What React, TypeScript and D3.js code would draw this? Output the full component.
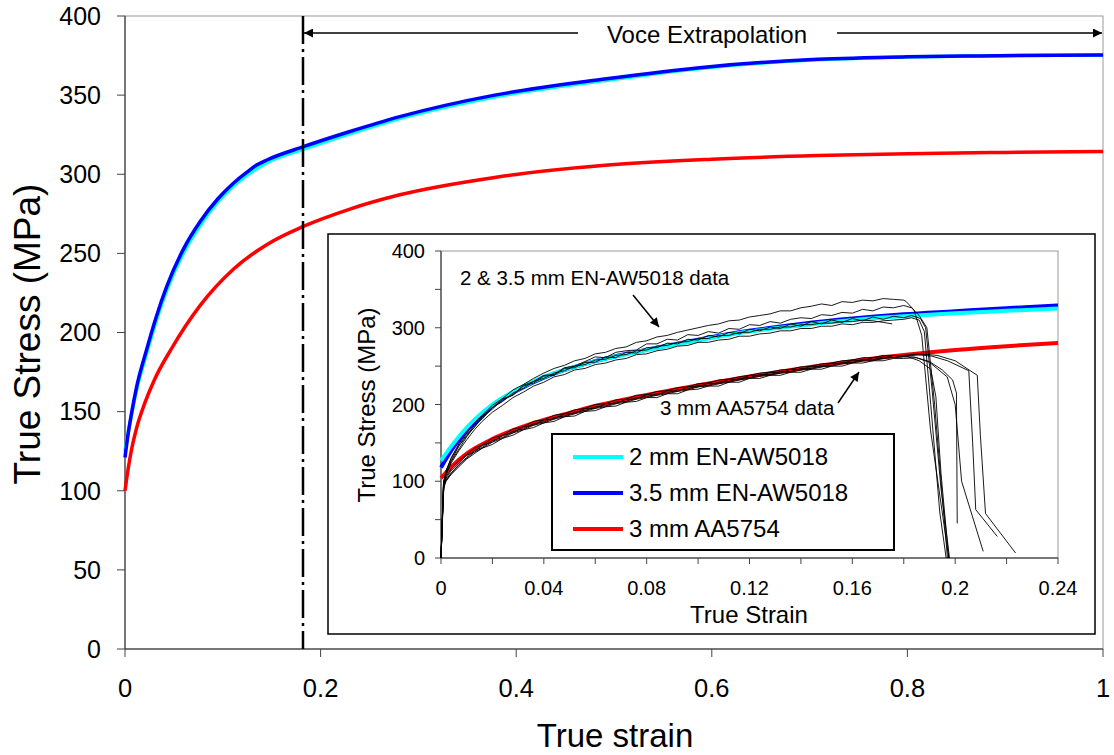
import React from 'react';
import * as d3 from 'd3';

// ---------- Main chart data ----------
const mainXTicks = [0, 0.2, 0.4, 0.6, 0.8, 1];
const mainYTicks = [0, 50, 100, 150, 200, 250, 300, 350, 400];
const voceStart = 0.182;

const mainBlueStrain = [0, 0.003, 0.007, 0.012, 0.022, 0.032, 0.0426, 0.06, 0.0767, 0.095, 0.1108, 0.125, 0.1346, 0.145, 0.1823, 0.23, 0.281, 0.378, 0.488, 0.598, 0.708, 0.8, 0.873, 1];
const mainBlueStress = [121, 135, 150, 166, 189, 210, 229, 253, 270, 284.5, 294.3, 301.5, 305.8, 309, 317.4, 327, 336.4, 350, 360, 368, 372.6, 374.2, 374.8, 375.4];
const mainCyanStress = [125, 136, 149, 164, 186.5, 207.5, 226.5, 250.5, 267.5, 282.5, 292.5, 299.5, 303.5, 307.3, 315.8, 325.6, 335.2, 348.8, 359, 367.5, 372.3, 374.1, 374.8, 375.4];
const mainRedStrain = [0, 0.003, 0.007, 0.012, 0.02, 0.03, 0.0477, 0.0767, 0.1108, 0.1449, 0.1823, 0.23, 0.281, 0.378, 0.488, 0.6, 0.708, 0.8, 0.9, 1];
const mainRedStress = [100, 113, 127, 140, 155, 170, 190, 217, 240, 255.5, 267, 278, 287, 298, 305.5, 309.5, 311.8, 313, 313.8, 314.4];

// ---------- Inset data ----------
const insetXTicks = [0, 0.02, 0.04, 0.06, 0.08, 0.1, 0.12, 0.14, 0.16, 0.18, 0.2, 0.22, 0.24];
const insetXLabels = [0, 0.04, 0.08, 0.12, 0.16, 0.2, 0.24];
const insetYTicks = [0, 50, 100, 150, 200, 250, 300, 350, 400];
const insetYLabels = [0, 100, 200, 300, 400];

const insetFitStrain = [0, 0.005, 0.01, 0.02, 0.03, 0.04, 0.05, 0.06, 0.07, 0.08, 0.09, 0.1, 0.12, 0.14, 0.16, 0.18, 0.2, 0.22, 0.24];
const insetCyan = [127, 150, 170, 200, 220, 236, 247, 256.5, 264, 271, 277.5, 283.5, 295, 303, 310, 315, 319, 322, 325];
const insetBlue = [118, 145, 166, 198, 219, 235, 247, 256.5, 264.5, 271.5, 278, 284.5, 296, 305, 312, 317.5, 321.5, 325.5, 329];
const insetRed = [104, 122, 136, 155, 169, 180, 189, 198, 205.5, 212.5, 219, 225, 236.5, 247, 256.5, 264.5, 271, 276, 280];

// experimental specimens: shared strain grid + per-specimen stress + tail points
const specStrain = [0, 0.001, 0.002, 0.004, 0.007, 0.01, 0.013, 0.016, 0.02, 0.024, 0.028, 0.032, 0.036, 0.04, 0.044, 0.048, 0.052, 0.056, 0.06, 0.064, 0.068, 0.072, 0.076, 0.08, 0.084, 0.088, 0.092, 0.096, 0.1, 0.104, 0.108, 0.112, 0.116, 0.12, 0.124, 0.128, 0.132, 0.136, 0.14, 0.144, 0.148, 0.152, 0.156, 0.16, 0.164, 0.168, 0.172, 0.176, 0.18];

const u1 = [0, 92, 114, 131, 149, 163, 176, 186, 199, 208, 219, 226, 234, 241, 247, 251, 257, 260, 266, 268, 273, 275, 281, 283, 288, 290, 294, 297, 300, 303, 305, 309, 310, 314, 316, 318, 322, 322, 326, 328, 331, 329, 334, 333, 336, 335, 338, 337, 336];
const u1Tail = [[0.181, 334], [0.184, 323], [0.187, 290], [0.1904, 167], [0.1975, 0]];
const u2 = [0, 85, 108, 126, 142, 158, 171, 184, 196, 207, 213, 225, 230, 238, 239, 248, 250, 256, 262, 261, 268, 270, 271, 279, 279, 285, 284, 291, 290, 295, 293, 299, 298, 304, 303, 308, 306, 311, 313, 312, 317, 316, 320, 319, 324, 322, 327, 326, 329];
const u2Tail = [[0.183, 326], [0.186, 316], [0.189, 300], [0.192, 200], [0.195, 80], [0.197, 0]];
const u3 = [0, 98, 114, 127, 146, 159, 173, 181, 196, 204, 215, 221, 230, 234, 241, 244, 250, 252, 258, 259, 264, 265, 270, 271, 276, 277, 281, 282, 286, 286, 290, 290, 294, 294, 298, 298, 301, 301, 304, 304, 306, 306, 308, 308, 310, 309, 307];
const u3Tail = [[0.1755, 305]];
const u4 = [0, 100, 110, 124, 140, 154, 167, 178, 190, 199, 209, 216, 224, 229, 236, 239, 245, 247, 252, 254, 258, 260, 265, 266, 270, 272, 276, 277, 281, 281, 284, 285, 289, 289, 292, 293, 296, 296, 299, 299, 302, 302, 305, 304, 307, 307, 309, 310, 311];
const u4Tail = [[0.183, 313], [0.186, 310], [0.188, 295], [0.1905, 200], [0.194, 60], [0.1965, 0]];
const u5 = [0, 96, 113, 130, 147, 161, 170, 183, 194, 207, 212, 224, 228, 237, 238, 247, 248, 255, 255, 262, 261, 268, 267, 274, 274, 280, 279, 285, 284, 290, 288, 294, 292, 298, 296, 301, 299, 305, 302, 308, 305, 310, 307, 312, 309, 314, 311, 315, 313];
const u5Tail = [[0.183, 316], [0.1865, 312], [0.1885, 300], [0.191, 220], [0.1945, 90], [0.1978, 0]];

const l1 = [0, 90, 106, 116, 127, 135, 143, 147, 156, 160, 168, 171, 178, 180, 186, 188, 193, 195, 200, 201, 206, 207, 212, 213, 217, 218, 222, 223, 227, 228, 232, 233, 236, 238, 241, 242, 245, 246, 249, 250, 253, 254, 257, 258, 261, 261, 264, 264];
const l1Tail = [[0.181, 263], [0.186, 257], [0.1905, 246], [0.1925, 210], [0.1945, 110], [0.1975, 0]];
const l2 = [0, 98, 101, 109, 119, 129, 136, 143, 148, 156, 160, 167, 170, 176, 178, 184, 185, 191, 192, 197, 198, 203, 204, 209, 209, 214, 214, 219, 220, 224, 224, 229, 229, 234, 234, 238, 238, 242, 242, 246, 246, 250, 250, 254, 254, 257, 257, 260, 260];
const l2Tail = [[0.185, 261], [0.19, 256], [0.195, 245], [0.199, 232], [0.2005, 215], [0.2008, 45]];
const l3 = [0, 93, 104, 114, 124, 134, 138, 147, 151, 160, 163, 171, 173, 180, 181, 188, 188, 195, 195, 201, 201, 207, 207, 213, 212, 218, 217, 223, 223, 228, 227, 233, 232, 238, 237, 242, 241, 246, 245, 250, 249, 254, 253, 258, 257, 261, 260, 264, 263];
const l3Tail = [[0.185, 265], [0.191, 263], [0.197, 257], [0.2053, 244], [0.2068, 150], [0.208, 63], [0.2164, 28]];
const l4 = [0, 100, 102, 111, 122, 131, 140, 144, 153, 157, 165, 168, 175, 177, 183, 185, 190, 192, 197, 198, 203, 204, 209, 210, 214, 215, 219, 220, 225, 225, 229, 230, 234, 235, 239, 239, 243, 243, 247, 247, 251, 251, 255, 255, 259, 258, 262, 261, 264];
const l4Tail = [[0.186, 266], [0.193, 264], [0.2, 257], [0.2086, 238], [0.2098, 160], [0.2118, 58], [0.2235, 6.5]];
const l5 = [0, 92, 100, 110, 121, 130, 138, 143, 151, 156, 163, 167, 173, 176, 181, 184, 188, 191, 195, 197, 201, 203, 207, 209, 212, 214, 217, 219, 223, 224, 227, 229, 232, 234, 237, 238, 241, 242, 245, 246, 249, 250, 253, 254, 257, 257, 260, 261, 262];
const l5Tail = [[0.184, 262], [0.19, 255], [0.1969, 236], [0.2, 200], [0.2025, 100], [0.2109, 8.6]];

const specimens = [
  [u1, u1Tail], [u2, u2Tail], [u3, u3Tail], [u4, u4Tail], [u5, u5Tail],
  [l1, l1Tail], [l2, l2Tail], [l3, l3Tail], [l4, l4Tail], [l5, l5Tail],
] as [number[], number[][]][];

const legendItems = [
  { label: '2 mm EN-AW5018', color: '#00FFFF' },
  { label: '3.5 mm EN-AW5018', color: '#0000FF' },
  { label: '3 mm AA5754', color: '#FF0000' },
];

const FONT = 'Liberation Sans, Arial, Helvetica, sans-serif';

export default function App() {
  const W = 1114, H = 755;
  const x = d3.scaleLinear().domain([0, 1]).range([125, 1103]);
  const y = d3.scaleLinear().domain([0, 400]).range([649, 16]);
  const ix = d3.scaleLinear().domain([0, 0.24]).range([441, 1058]);
  const iy = d3.scaleLinear().domain([0, 400]).range([558, 251]);

  const mainLine = d3.line<[number, number]>().x(d => x(d[0])).y(d => y(d[1])).curve(d3.curveMonotoneX);
  const insetFit = d3.line<[number, number]>().x(d => ix(d[0])).y(d => iy(d[1])).curve(d3.curveMonotoneX);
  const insetData = d3.line<number[]>().x(d => ix(d[0])).y(d => iy(d[1]));

  const zip = (xs: number[], ys: number[]) => ys.map((v, i) => [xs[i], v] as [number, number]);

  const vx = x(voceStart);
  const arrowY = 33;

  return (
    <svg width={W} height={H} style={{ position: 'absolute', left: 0, top: 0, background: '#fff' }} fontFamily={FONT}>
      <defs>
        <marker id="ah" viewBox="0 0 10 10" refX="10" refY="5" markerWidth="7" markerHeight="6" orient="auto" markerUnits="strokeWidth">
          <path d="M0,0 L10,5 L0,10 z" fill="#000" />
        </marker>
        <marker id="ah2" viewBox="0 0 10 10" refX="10" refY="5" markerWidth="8" markerHeight="6" orient="auto" markerUnits="strokeWidth">
          <path d="M0,0 L10,5 L0,10 z" fill="#000" />
        </marker>
      </defs>
      <rect x={0} y={0} width={W} height={H} fill="#fff" />

      {/* main plot frame */}
      <rect x={x(0)} y={y(400)} width={x(1) - x(0)} height={y(0) - y(400)} fill="none" stroke="#999" strokeWidth={1} />
      <line x1={x(0)} x2={x(0)} y1={y(400)} y2={y(0)} stroke="#222" strokeWidth={1} />
      <line x1={x(0)} x2={x(1)} y1={y(0)} y2={y(0)} stroke="#222" strokeWidth={1} />

      {mainYTicks.map(t => (
        <g key={'my' + t}>
          <line x1={x(0) - 8} x2={x(0)} y1={y(t)} y2={y(t)} stroke="#444" />
          <text x={101} y={y(t)} dy="0.35em" textAnchor="end" fontSize={25} fill="#000">{t}</text>
        </g>
      ))}
      {mainXTicks.map(t => (
        <g key={'mx' + t}>
          <line x1={x(t)} x2={x(t)} y1={y(0)} y2={y(0) + 8} stroke="#444" />
          <text x={x(t)} y={697} textAnchor="middle" fontSize={25.5} fill="#000">{t}</text>
        </g>
      ))}
      <text transform="translate(40,334) rotate(-90)" textAnchor="middle" fontSize={37} fill="#000">True Stress (MPa)</text>
      <text x={615} y={747} textAnchor="middle" fontSize={33} fill="#000">True strain</text>

      {/* main curves */}
      <path d={mainLine(zip(mainBlueStrain, mainCyanStress)) || ''} fill="none" stroke="#00FFFF" strokeWidth={3.5} />
      <path d={mainLine(zip(mainBlueStrain, mainBlueStress)) || ''} fill="none" stroke="#0000FF" strokeWidth={3.5} />
      <path d={mainLine(zip(mainRedStrain, mainRedStress)) || ''} fill="none" stroke="#FF0000" strokeWidth={3.5} />

      {/* dash-dot line */}
      <line x1={vx} x2={vx} y1={y(400)} y2={y(0)} stroke="#000" strokeWidth={2.5} strokeDasharray="28,5,3,5" />

      {/* Voce extrapolation arrow */}
      <line x1={578} x2={vx + 1} y1={arrowY} y2={arrowY} stroke="#000" strokeWidth={1.5} markerEnd="url(#ah)" />
      <line x1={837} x2={x(1) - 1} y1={arrowY} y2={arrowY} stroke="#000" strokeWidth={1.5} markerEnd="url(#ah)" />
      <text x={707} y={42.5} textAnchor="middle" fontSize={24} fill="#000">Voce Extrapolation</text>

      {/* inset */}
      <rect x={328} y={234} width={767} height={400} fill="#fff" stroke="#000" strokeWidth={1.5} />
      <rect x={ix(0)} y={iy(400)} width={ix(0.24) - ix(0)} height={iy(0) - iy(400)} fill="none" stroke="#999" strokeWidth={1} />
      <line x1={ix(0)} x2={ix(0)} y1={iy(400)} y2={iy(0)} stroke="#222" />
      <line x1={ix(0)} x2={ix(0.24)} y1={iy(0)} y2={iy(0)} stroke="#222" />
      {insetYTicks.map(t => (
        <line key={'iyt' + t} x1={ix(0) - 6} x2={ix(0)} y1={iy(t)} y2={iy(t)} stroke="#444" />
      ))}
      {insetYLabels.map(t => (
        <text key={'iyl' + t} x={425} y={iy(t)} dy="0.35em" textAnchor="end" fontSize={20} fill="#000">{t}</text>
      ))}
      {insetXTicks.map(t => (
        <line key={'ixt' + t} x1={ix(t)} x2={ix(t)} y1={iy(0)} y2={iy(0) + 6} stroke="#444" />
      ))}
      {insetXLabels.map(t => (
        <text key={'ixl' + t} x={ix(t)} y={595} textAnchor="middle" fontSize={20} fill="#000">{t}</text>
      ))}
      <text transform="translate(375,405) rotate(-90)" textAnchor="middle" fontSize={24} fill="#000">True Stress (MPa)</text>
      <text x={749} y={623} textAnchor="middle" fontSize={24} fill="#000">True Strain</text>

      {/* inset fits */}
      <path d={insetFit(zip(insetFitStrain, insetBlue)) || ''} fill="none" stroke="#0000FF" strokeWidth={4} />
      <path d={insetFit(zip(insetFitStrain, insetCyan)) || ''} fill="none" stroke="#00FFFF" strokeWidth={4} />
      <path d={insetFit(zip(insetFitStrain, insetRed)) || ''} fill="none" stroke="#FF0000" strokeWidth={4} />

      {/* experimental data */}
      {specimens.map(([vals, tail], i) => {
        const pts = vals.map((v, k) => [specStrain[k], v]).concat(tail);
        return <path key={'sp' + i} d={insetData(pts) || ''} fill="none" stroke="#000" strokeWidth={0.9} />;
      })}

      {/* annotations */}
      <text x={460} y={285} fontSize={20.5} fill="#000">2 &amp; 3.5 mm EN-AW5018 data</text>
      <line x1={633} y1={295} x2={659} y2={327} stroke="#000" strokeWidth={1.5} markerEnd="url(#ah2)" />
      <text x={660} y={415} fontSize={20.5} fill="#000">3 mm AA5754 data</text>
      <line x1={838} y1={403} x2={859} y2={372} stroke="#000" strokeWidth={1.5} markerEnd="url(#ah2)" />

      {/* legend */}
      <rect x={552} y={434} width={342} height={116} fill="#fff" stroke="#000" strokeWidth={2} />
      {legendItems.map((it, i) => (
        <g key={it.label}>
          <line x1={573} x2={623} y1={457 + i * 36} y2={457 + i * 36} stroke={it.color} strokeWidth={4} />
          <text x={629} y={465 + i * 36} fontSize={24} fill="#000">{it.label}</text>
        </g>
      ))}
    </svg>
  );
}
